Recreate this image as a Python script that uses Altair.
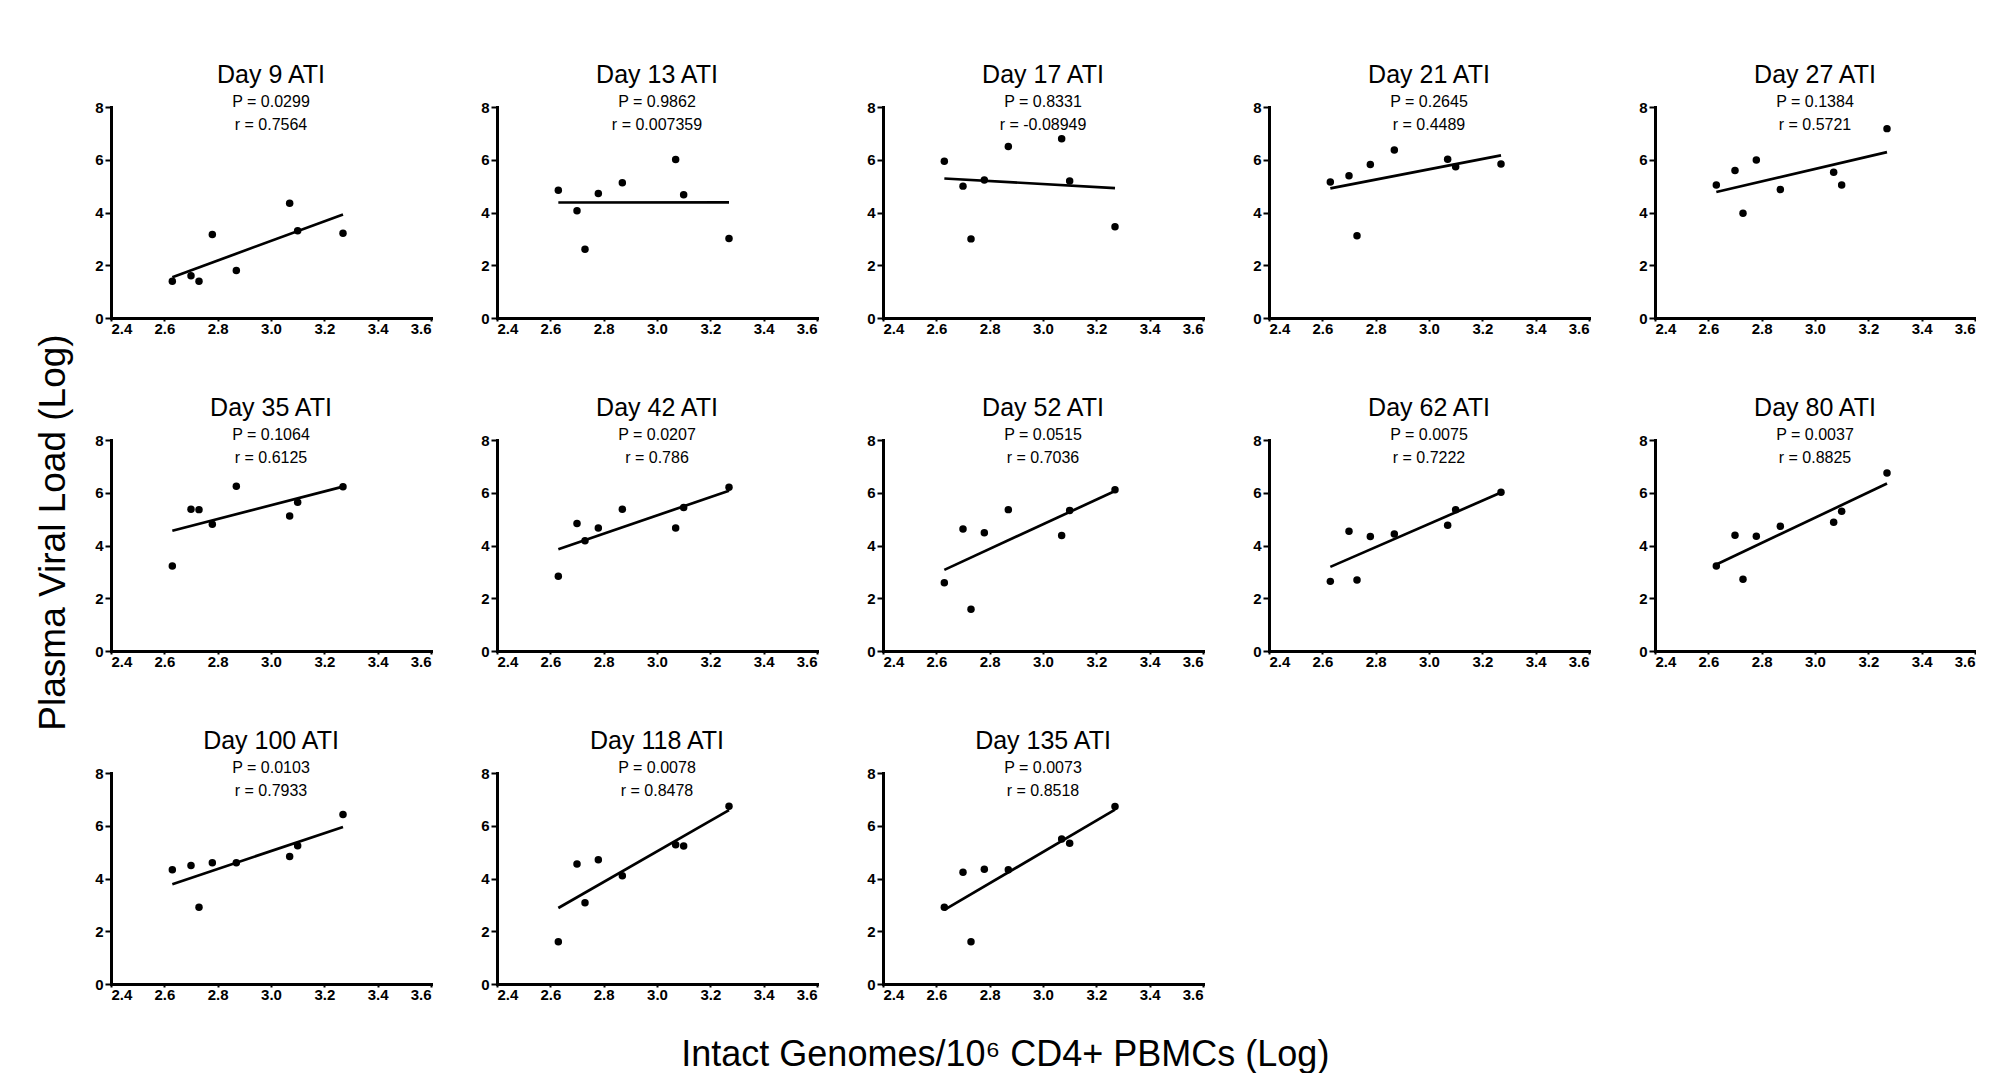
import altair as alt
import pandas as pd

# Intact genomes (log) per participant - same for every panel
x_vals = [2.63, 2.70, 2.73, 2.78, 2.87, 3.07, 3.10, 3.27]

days = ["Day 9 ATI", "Day 13 ATI", "Day 17 ATI", "Day 21 ATI", "Day 27 ATI",
        "Day 35 ATI", "Day 42 ATI", "Day 52 ATI", "Day 62 ATI", "Day 80 ATI",
        "Day 100 ATI", "Day 118 ATI", "Day 135 ATI"]

p_vals = ["0.0299", "0.9862", "0.8331", "0.2645", "0.1384",
          "0.1064", "0.0207", "0.0515", "0.0075", "0.0037",
          "0.0103", "0.0078", "0.0073"]
r_vals = ["0.7564", "0.007359", "-0.08949", "0.4489", "0.5721",
          "0.6125", "0.786", "0.7036", "0.7222", "0.8825",
          "0.7933", "0.8478", "0.8518"]

y_day9 = [1.39, 1.60, 1.39, 3.17, 1.80, 4.35, 3.31, 3.21]
y_day13 = [4.84, 4.07, 2.61, 4.72, 5.13, 6.01, 4.67, 3.01]
y_day17 = [5.94, 5.00, 3.00, 5.23, 6.50, 6.80, 5.19, 3.46]
y_day21 = [5.16, 5.39, 3.12, 5.82, 6.37, 6.02, 5.73, 5.84]
y_day27 = [5.04, 5.59, 3.97, 5.99, 4.87, 5.53, 5.04, 7.18]
y_day35 = [3.22, 5.37, 5.36, 4.81, 6.25, 5.12, 5.64, 6.23]
y_day42 = [2.83, 4.83, 4.18, 4.66, 5.37, 4.66, 5.44, 6.21]
y_day52 = [2.59, 4.63, 1.58, 4.48, 5.36, 4.38, 5.33, 6.11]
y_day62 = [2.64, 4.54, 2.69, 4.34, 4.44, 4.77, 5.36, 6.02]
y_day80 = [3.22, 4.39, 2.72, 4.35, 4.73, 4.88, 5.30, 6.75]
y_day100 = [4.33, 4.49, 2.91, 4.60, 4.60, 4.83, 5.24, 6.43]
y_day118 = [1.60, 4.55, 3.08, 4.71, 4.10, 5.28, 5.23, 6.74]
y_day135 = [2.91, 4.24, 1.60, 4.35, 4.33, 5.50, 5.34, 6.73]

y_series = [y_day9, y_day13, y_day17, y_day21, y_day27, y_day35, y_day42,
            y_day52, y_day62, y_day80, y_day100, y_day118, y_day135]

x_ticks = [2.4, 2.6, 2.8, 3.0, 3.2, 3.4, 3.6]
y_ticks = [0, 2, 4, 6, 8]

FONT = "Liberation Sans"

panels = []
for day, ys, p, r in zip(days, y_series, p_vals, r_vals):
    df = pd.DataFrame({"x": x_vals, "y": ys})
    base = alt.Chart(df)
    xenc = alt.X("x:Q", scale=alt.Scale(domain=[2.4, 3.6], nice=False, zero=False),
                 axis=alt.Axis(values=x_ticks, format=".1f", title=None,
                               tickSize=3, labelPadding=0))
    yenc = alt.Y("y:Q", scale=alt.Scale(domain=[0, 8], nice=False),
                 axis=alt.Axis(values=y_ticks, format="d", title=None,
                               tickSize=6, labelPadding=2))
    pts = base.mark_circle(size=56, color="black", opacity=1).encode(x=xenc, y=yenc)
    line = base.transform_regression("x", "y").mark_line(
        color="black", strokeWidth=2.7).encode(x=xenc, y=yenc)
    panel = alt.layer(line, pts).properties(
        width=320, height=211,
        title=alt.TitleParams(
            text=day, subtitle=[f"P = {p}", f"r = {r}"],
            font=FONT, fontSize=25, fontWeight="normal", color="black",
            subtitleFont=FONT, subtitleFontSize=16, subtitleColor="black",
            subtitleLineHeight=23, subtitlePadding=6,
            anchor="middle", frame="group", offset=-33,
        ),
    )
    panels.append(panel)

grid = alt.concat(*panels, columns=5, spacing={"row": 122, "column": 66},
                  bounds="flush").properties(
    title=alt.TitleParams(text="Plasma Viral Load (Log)", orient="left",
                          anchor="middle", font=FONT, fontSize=37,
                          fontWeight="normal", color="black", offset=22)
)

chart = alt.vconcat(grid).properties(
    title=alt.TitleParams(text="Intact Genomes/10\u2076 CD4+ PBMCs (Log)",
                          orient="bottom", anchor="middle", font=FONT,
                          fontSize=36, fontWeight="normal", color="black",
                          offset=36),
    padding={"left": 26, "top": 55, "right": 0, "bottom": 0},
    background="white",
).configure_view(strokeWidth=0).configure_axis(
    domainColor="black", domainWidth=3, tickColor="black", tickWidth=2,
    labelColor="black", labelFont=FONT, labelFontSize=15,
    labelFontWeight="bold", grid=False, domainCap="square",
)

chart.save("out.html", embed_options={"renderer": "svg", "actions": False})
